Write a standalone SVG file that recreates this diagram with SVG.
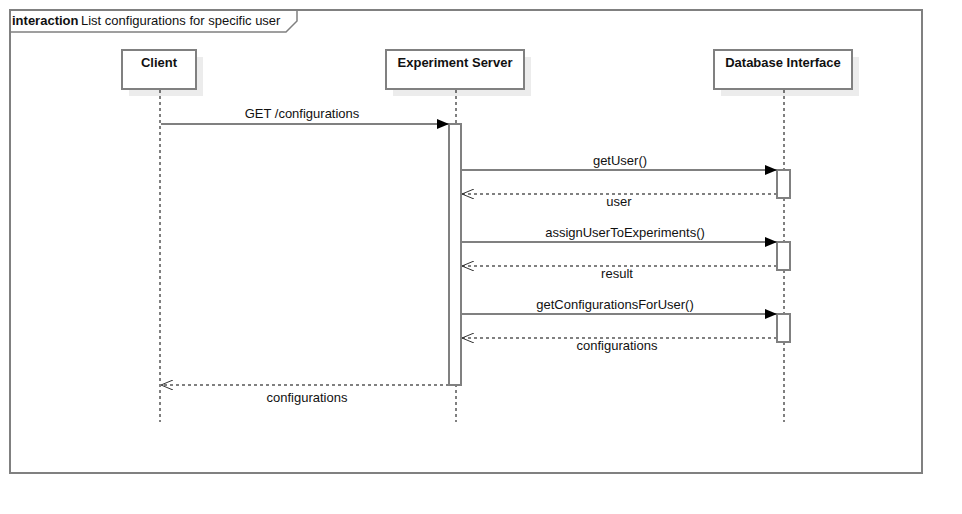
<svg xmlns="http://www.w3.org/2000/svg" width="962" height="514" viewBox="0 0 962 514">
<defs>
<style>
text{font-family:"Liberation Sans",Arial,sans-serif;font-size:13px;fill:#111}
.hd{font-weight:bold;text-anchor:middle}
.lbl{text-anchor:middle}
.box{fill:#fff;stroke:#808080;stroke-width:2}
.sh{fill:#ececec}
.life{stroke:#000;stroke-width:1;stroke-dasharray:3,3;fill:none}
.msg{stroke:#808080;stroke-width:2;fill:none}
.ret{stroke:#808080;stroke-width:2;stroke-dasharray:3,3;fill:none}
.act{fill:#fff;stroke:#808080;stroke-width:2}
</style>
<marker id="fill" viewBox="0 0 12 10" refX="12" refY="5" markerWidth="12" markerHeight="10" markerUnits="userSpaceOnUse" orient="auto">
<path d="M0,0 L12,5 L0,10 Z" fill="#000"/>
</marker>
<marker id="open" viewBox="0 0 12 10" refX="12" refY="5" markerWidth="12" markerHeight="10" markerUnits="userSpaceOnUse" orient="auto">
<path d="M0,0 L12,5 L0,10" fill="none" stroke="#333" stroke-width="1"/>
</marker>
</defs>
<rect width="962" height="514" fill="#fff"/>
<g id="frame">
<rect x="10" y="10" width="912" height="463" fill="none" stroke="#808080" stroke-width="2"/>
<path d="M10,32 L286,32 L297,21 L297,10" fill="none" stroke="#808080" stroke-width="1.5"/>
<text x="12" y="25" style="font-weight:bold">interaction</text>
<text x="81" y="25">List configurations for specific user</text>
</g>
<g id="client">
<rect class="sh" x="129" y="57" width="74" height="39"/>
<rect class="box" x="122" y="50" width="74" height="39"/>
<text class="hd" x="159" y="67">Client</text>
<line class="life" x1="160" y1="90" x2="160" y2="422"/>
</g>
<g id="server">
<rect class="sh" x="393" y="57" width="138" height="39"/>
<rect class="box" x="386" y="50" width="138" height="39"/>
<text class="hd" x="455" y="67">Experiment Server</text>
<line class="life" x1="456" y1="90" x2="456" y2="422"/>
<rect class="act" x="449" y="124" width="12" height="261"/>
</g>
<g id="database">
<rect class="sh" x="721" y="57" width="138" height="39"/>
<rect class="box" x="714" y="50" width="138" height="39"/>
<text class="hd" x="783" y="67">Database Interface</text>
<line class="life" x1="784" y1="90" x2="784" y2="422"/>
<rect class="act" x="777" y="170" width="13" height="28"/>
<rect class="act" x="777" y="242" width="13" height="28"/>
<rect class="act" x="777" y="314" width="13" height="28"/>
</g>
<g id="connectors">
<line class="msg" x1="161" y1="124" x2="449" y2="124" marker-end="url(#fill)"/>
<text class="lbl" x="302" y="118">GET /configurations</text>
<line class="msg" x1="462" y1="170" x2="777" y2="170" marker-end="url(#fill)"/>
<text class="lbl" x="620" y="165">getUser()</text>
<line class="ret" x1="777" y1="194" x2="462" y2="194" marker-end="url(#open)"/>
<text class="lbl" x="619" y="206">user</text>
<line class="msg" x1="462" y1="242" x2="777" y2="242" marker-end="url(#fill)"/>
<text class="lbl" x="625" y="237">assignUserToExperiments()</text>
<line class="ret" x1="777" y1="266" x2="462" y2="266" marker-end="url(#open)"/>
<text class="lbl" x="617" y="278">result</text>
<line class="msg" x1="462" y1="314" x2="777" y2="314" marker-end="url(#fill)"/>
<text class="lbl" x="615" y="309">getConfigurationsForUser()</text>
<line class="ret" x1="777" y1="338" x2="462" y2="338" marker-end="url(#open)"/>
<text class="lbl" x="617" y="350">configurations</text>
<line class="ret" x1="449" y1="385" x2="161" y2="385" marker-end="url(#open)"/>
<text class="lbl" x="307" y="402">configurations</text>
</g>
</svg>
